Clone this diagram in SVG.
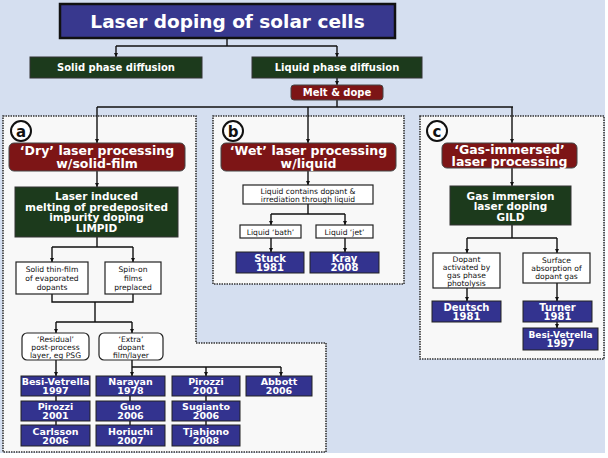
<svg xmlns="http://www.w3.org/2000/svg" width="608" height="458" viewBox="0 0 608 458">
<defs>
<marker id="ah" viewBox="0 0 6 6" refX="6" refY="3" markerWidth="4" markerHeight="4" orient="auto" markerUnits="userSpaceOnUse">
<path d="M0,0 L6,3 L0,6 Z" fill="#111"/>
</marker>
</defs>
<style>
.bg{fill:#d5dff0}
.panel{fill:#f8f8f8;stroke:#333;stroke-width:1.6;stroke-dasharray:1.5 1}
.title{fill:#38388e;stroke:#111;stroke-width:2.5}
.green{fill:#1c3a1c;stroke:#333;stroke-width:1}
.red{fill:#7d1516;stroke:#444;stroke-width:1}
.blue{fill:#33338f;stroke:#222;stroke-width:1}
.white{fill:#fff;stroke:#222;stroke-width:1.2}
.wt{fill:#fff;font-family:"DejaVu Sans",Verdana,sans-serif;font-weight:bold;text-anchor:middle}
.bt{fill:#111;font-family:"DejaVu Sans",Verdana,sans-serif;text-anchor:middle;font-size:7.6px}
.lbl{fill:#111;font-family:"DejaVu Sans",Verdana,sans-serif;font-weight:bold;text-anchor:middle;font-size:15px}
.circ{fill:#fff;stroke:#111;stroke-width:2}
.c line,.c path{stroke:#111;stroke-width:1.4;fill:none}
.c .a{marker-end:url(#ah)}
</style>
<rect class="bg" x="0" y="0" width="605" height="453"/>

<g id="panel-a"><path class="panel" d="M3,116 H196 V343 H326 V452 H3 Z"/><circle class="circ" cx="21" cy="131" r="10"/><text class="lbl" x="21" y="136.5">a</text></g>
<g id="panel-b"><rect class="panel" x="213" y="116" width="191" height="168"/><circle class="circ" cx="233" cy="131" r="10"/><text class="lbl" x="233" y="136.5">b</text></g>
<g id="panel-c"><rect class="panel" x="420" y="116" width="184" height="243"/><circle class="circ" cx="437" cy="131" r="10"/><text class="lbl" x="437" y="136.5">c</text></g>

<g id="connectors" class="c">
<line x1="227" y1="38" x2="227" y2="46"/>
<line x1="116" y1="46" x2="337" y2="46"/>
<line class="a" x1="116" y1="46" x2="116" y2="57"/>
<line class="a" x1="337" y1="46" x2="337" y2="57"/>
<line class="a" x1="337" y1="78" x2="337" y2="85"/>
<line x1="337" y1="100" x2="337" y2="107"/>
<line x1="97" y1="107" x2="513" y2="107"/>
<line class="a" x1="97" y1="107" x2="97" y2="143"/>
<line class="a" x1="308" y1="107" x2="308" y2="143"/>
<line class="a" x1="512" y1="107" x2="512" y2="143"/>
<line class="a" x1="97" y1="171" x2="97" y2="187"/>
<line x1="97" y1="237" x2="97" y2="247"/>
<line x1="52" y1="247" x2="133" y2="247"/>
<line class="a" x1="52" y1="247" x2="52" y2="262"/>
<line class="a" x1="133" y1="247" x2="133" y2="262"/>
<path d="M52,294 V302 H133 V294"/>
<line x1="95" y1="302" x2="95" y2="322"/>
<line x1="56" y1="322" x2="132" y2="322"/>
<line class="a" x1="56" y1="322" x2="56" y2="333"/>
<line class="a" x1="132" y1="322" x2="132" y2="333"/>
<line class="a" x1="56" y1="360" x2="56" y2="376"/>
<line class="a" x1="132" y1="360" x2="132" y2="376"/>
<line x1="132" y1="367" x2="281" y2="367"/>
<line class="a" x1="206" y1="367" x2="206" y2="376"/>
<line class="a" x1="281" y1="367" x2="281" y2="376"/>
<line x1="56" y1="396" x2="56" y2="401"/>
<line x1="56" y1="421" x2="56" y2="425"/>
<line x1="130" y1="396" x2="130" y2="401"/>
<line x1="130" y1="421" x2="130" y2="425"/>
<line x1="206" y1="396" x2="206" y2="401"/>
<line x1="206" y1="421" x2="206" y2="425"/>
<line class="a" x1="308" y1="171" x2="308" y2="185"/>
<line x1="308" y1="204" x2="308" y2="214"/>
<line x1="271" y1="214" x2="345" y2="214"/>
<line class="a" x1="271" y1="214" x2="271" y2="225"/>
<line class="a" x1="345" y1="214" x2="345" y2="225"/>
<line class="a" x1="271" y1="238" x2="271" y2="252"/>
<line class="a" x1="345" y1="238" x2="345" y2="252"/>
<line class="a" x1="512" y1="168" x2="512" y2="186"/>
<line x1="512" y1="225" x2="512" y2="238"/>
<line x1="467" y1="238" x2="557" y2="238"/>
<line class="a" x1="467" y1="238" x2="467" y2="253"/>
<line class="a" x1="557" y1="238" x2="557" y2="253"/>
<line class="a" x1="467" y1="288" x2="467" y2="301"/>
<line class="a" x1="557" y1="283" x2="557" y2="301"/>
<line class="a" x1="557" y1="322" x2="557" y2="328"/>
</g>

<g id="title"><rect class="title" x="60" y="4" width="335" height="34"/><text class="wt" x="227.5" y="27.5" font-size="18.5">Laser doping of solar cells</text></g>
<g id="solid"><rect class="green" x="30" y="57" width="172" height="21"/><text class="wt" x="116" y="71" font-size="10">Solid phase diffusion</text></g>
<g id="liquid"><rect class="green" x="252" y="57" width="170" height="21"/><text class="wt" x="337" y="71" font-size="10">Liquid phase diffusion</text></g>
<g id="melt"><rect class="red" x="291" y="85" width="92" height="15" rx="3"/><text class="wt" x="337" y="96" font-size="10">Melt &amp; dope</text></g>

<g id="dry"><rect class="red" x="9" y="143" width="176" height="28" rx="5"/><text class="wt" x="97" y="155" font-size="12.5">‘Dry’ laser processing</text><text class="wt" x="97" y="167.5" font-size="12.5">w/solid-film</text></g>
<g id="limpid"><rect class="green" x="15" y="187" width="163" height="50"/><text class="wt" x="96.5" y="200" font-size="10.5">Laser induced</text><text class="wt" x="96.5" y="210.5" font-size="10.5">melting of predeposited</text><text class="wt" x="96.5" y="221" font-size="10.5">impurity doping</text><text class="wt" x="96.5" y="231.5" font-size="10.5">LIMPID</text></g>
<g id="thinfilm"><rect class="white" x="16" y="262" width="72" height="32"/><text class="bt" x="52" y="272">Solid thin-film</text><text class="bt" x="52" y="281">of evaporated</text><text class="bt" x="52" y="290">dopants</text></g>
<g id="spinon"><rect class="white" x="105" y="262" width="56" height="32"/><text class="bt" x="133" y="272">Spin-on</text><text class="bt" x="133" y="281">films</text><text class="bt" x="133" y="290">preplaced</text></g>
<g id="residual"><rect class="white" x="22" y="333" width="67" height="27" rx="5"/><text class="bt" x="55.5" y="342" font-size="7.3">‘Residual’</text><text class="bt" x="55.5" y="350" font-size="7.3">post-process</text><text class="bt" x="55.5" y="358" font-size="7.3">layer, eg PSG</text></g>
<g id="extra"><rect class="white" x="99" y="333" width="64" height="27" rx="5"/><text class="bt" x="131" y="342" font-size="7.3">‘Extra’</text><text class="bt" x="131" y="350" font-size="7.3">dopant</text><text class="bt" x="131" y="358" font-size="7.3">film/layer</text></g>

<g id="a-besi"><rect class="blue" x="21" y="376" width="69" height="20"/><text class="wt" x="55.5" y="385" font-size="9.5">Besi-Vetrella</text><text class="wt" x="55.5" y="394" font-size="9.5">1997</text></g>
<g id="a-pirozzi1"><rect class="blue" x="21" y="401" width="69" height="20"/><text class="wt" x="55.5" y="410" font-size="9.5">Pirozzi</text><text class="wt" x="55.5" y="419" font-size="9.5">2001</text></g>
<g id="a-carlsson"><rect class="blue" x="21" y="425" width="69" height="21"/><text class="wt" x="55.5" y="434.5" font-size="9.5">Carlsson</text><text class="wt" x="55.5" y="443.5" font-size="9.5">2006</text></g>
<g id="a-narayan"><rect class="blue" x="96" y="376" width="69" height="20"/><text class="wt" x="130.5" y="385" font-size="9.5">Narayan</text><text class="wt" x="130.5" y="394" font-size="9.5">1978</text></g>
<g id="a-guo"><rect class="blue" x="96" y="401" width="69" height="20"/><text class="wt" x="130.5" y="410" font-size="9.5">Guo</text><text class="wt" x="130.5" y="419" font-size="9.5">2006</text></g>
<g id="a-horiuchi"><rect class="blue" x="96" y="425" width="69" height="21"/><text class="wt" x="130.5" y="434.5" font-size="9.5">Horiuchi</text><text class="wt" x="130.5" y="443.5" font-size="9.5">2007</text></g>
<g id="a-pirozzi2"><rect class="blue" x="172" y="376" width="68" height="20"/><text class="wt" x="206" y="385" font-size="9.5">Pirozzi</text><text class="wt" x="206" y="394" font-size="9.5">2001</text></g>
<g id="a-sugianto"><rect class="blue" x="172" y="401" width="68" height="20"/><text class="wt" x="206" y="410" font-size="9.5">Sugianto</text><text class="wt" x="206" y="419" font-size="9.5">2006</text></g>
<g id="a-tjahjono"><rect class="blue" x="172" y="425" width="68" height="21"/><text class="wt" x="206" y="434.5" font-size="9.5">Tjahjono</text><text class="wt" x="206" y="443.5" font-size="9.5">2008</text></g>
<g id="a-abbott"><rect class="blue" x="246" y="376" width="66" height="20"/><text class="wt" x="279" y="385" font-size="9.5">Abbott</text><text class="wt" x="279" y="394" font-size="9.5">2006</text></g>

<g id="wet"><rect class="red" x="221" y="143" width="175" height="28" rx="5"/><text class="wt" x="308.5" y="155" font-size="12.5">‘Wet’ laser processing</text><text class="wt" x="308.5" y="167.5" font-size="12.5">w/liquid</text></g>
<g id="liqcontains"><rect class="white" x="243" y="185" width="130" height="19"/><text class="bt" x="308" y="193.5">Liquid contains dopant &amp;</text><text class="bt" x="308" y="201.5">irrediation through liquid</text></g>
<g id="bath"><rect class="white" x="240" y="225" width="61" height="13"/><text class="bt" x="270.5" y="234.5">Liquid ‘bath’</text></g>
<g id="jet"><rect class="white" x="316" y="225" width="57" height="13"/><text class="bt" x="344.5" y="234.5">Liquid ‘jet’</text></g>
<g id="stuck"><rect class="blue" x="236" y="252" width="68" height="21"/><text class="wt" x="270" y="261.5" font-size="10">Stuck</text><text class="wt" x="270" y="270.5" font-size="10">1981</text></g>
<g id="kray"><rect class="blue" x="310" y="252" width="69" height="21"/><text class="wt" x="344.5" y="261.5" font-size="10">Kray</text><text class="wt" x="344.5" y="270.5" font-size="10">2008</text></g>

<g id="gas"><rect class="red" x="442" y="143" width="135" height="25" rx="5"/><text class="wt" x="509.5" y="154" font-size="12.5">‘Gas-immersed’</text><text class="wt" x="509.5" y="166" font-size="12.5">laser processing</text></g>
<g id="gild"><rect class="green" x="450" y="186" width="121" height="39"/><text class="wt" x="510.5" y="199.5" font-size="10.5">Gas immersion</text><text class="wt" x="510.5" y="210" font-size="10.5">laser doping</text><text class="wt" x="510.5" y="220.5" font-size="10.5">GILD</text></g>
<g id="dopant"><rect class="white" x="433" y="253" width="67" height="35"/><text class="bt" x="466.5" y="262">Dopant</text><text class="bt" x="466.5" y="270">activated by</text><text class="bt" x="466.5" y="278">gas phase</text><text class="bt" x="466.5" y="286">photolysis</text></g>
<g id="surface"><rect class="white" x="523" y="253" width="67" height="30"/><text class="bt" x="556.5" y="263">Surface</text><text class="bt" x="556.5" y="271">absorption of</text><text class="bt" x="556.5" y="279">dopant gas</text></g>
<g id="deutsch"><rect class="blue" x="432" y="301" width="69" height="21"/><text class="wt" x="466.5" y="310.5" font-size="10">Deutsch</text><text class="wt" x="466.5" y="319.5" font-size="10">1981</text></g>
<g id="turner"><rect class="blue" x="523" y="301" width="69" height="21"/><text class="wt" x="557.5" y="310.5" font-size="10">Turner</text><text class="wt" x="557.5" y="319.5" font-size="10">1981</text></g>
<g id="c-besi"><rect class="blue" x="523" y="328" width="75" height="22"/><text class="wt" x="560.5" y="337.5" font-size="9">Besi-Vetrella</text><text class="wt" x="560.5" y="347" font-size="10">1997</text></g>
</svg>
